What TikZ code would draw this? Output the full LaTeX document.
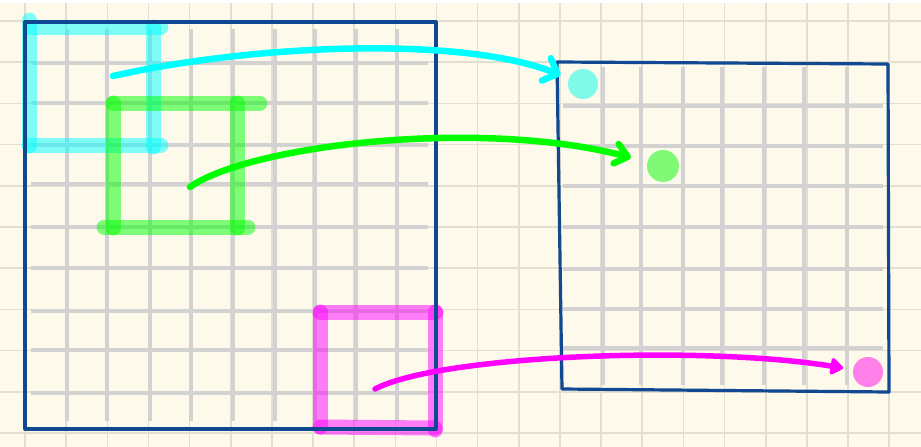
\documentclass[tikz,border=0pt]{standalone}
\usetikzlibrary{arrows.meta}

\definecolor{paper}{RGB}{253,250,235}
\definecolor{paperline}{RGB}{226,223,210}
\definecolor{cellgray}{RGB}{210,210,210}
\definecolor{frameblue}{RGB}{16,72,145}
\definecolor{inkcyan}{RGB}{0,255,255}
\definecolor{inkgreen}{RGB}{0,255,0}
\definecolor{inkmagenta}{RGB}{255,0,255}
\definecolor{dotcyan}{RGB}{128,250,232}
\definecolor{dotgreen}{RGB}{128,250,118}
\definecolor{dotmagenta}{RGB}{255,128,232}

\begin{document}
\begin{tikzpicture}[
  x=1pt, y=-1pt,
  paperrule/.style={draw=paperline, line width=1.6pt},
  cell/.style={draw=cellgray, line width=4pt},
  border/.style={draw=frameblue, line width=3.2pt, line join=round},
  win/.style={line width=15pt, line cap=round, opacity=0.5},
  dot/.style={circle, inner sep=0pt, minimum size=30pt},
  link/.style={line width=6.5pt, line cap=round},
]

\useasboundingbox (0,0) rectangle (921,447);
\fill[paper] (0,0) rectangle (921,447);
\fill[white] (0,0) rectangle (921,3);

\foreach \k in {0,...,21}
  \draw[paperrule] ({25+41.15*\k},3) -- ({25+41.15*\k},447);
\foreach \k in {0,...,10}
  \draw[paperrule] (0,{21+41.2*\k}) -- (921,{21+41.2*\k});

\foreach \x in {67,107,150,191,233,275,315,356,397}
  \draw[cell] (\x,29) -- (\x,421);
\foreach \y in {63,103,145,184,227,268,311,350,393}
  \draw[cell] (31,\y) -- (428,\y);
\foreach \x in {603,641,683,722,764,804,847}
  \draw[cell] (\x,67) -- (\x,385);
\foreach \y in {106,146,186,227,269,309,348}
  \draw[cell] (563,\y) -- (883,\y);

\draw[win, inkcyan] (29,20) -- (29,146);
\draw[win, inkcyan] (30,27) -- (161,27);
\draw[win, inkcyan] (153,27) -- (153,147);
\draw[win, inkcyan] (29,145) -- (161,145);

\draw[win, inkgreen] (113,103) -- (260,103);
\draw[win, inkgreen] (113,103) -- (113,228);
\draw[win, inkgreen] (237,103) -- (237,228);
\draw[win, inkgreen] (104,227) -- (248,227);

\draw[win, inkmagenta] (320,312) -- (436,312);
\draw[win, inkmagenta] (320,312) -- (320,427);
\draw[win, inkmagenta] (435,312) -- (435,430);
\draw[win, inkmagenta] (320,427) -- (435,428);

\draw[border] (25,22) rectangle (436,429);
\draw[border] (557,62) -- (888,64) -- (889,392) -- (562,389) -- cycle;

\node[dot, fill=dotcyan] (cyanpix) at (583,84) {};
\node[dot, fill=dotgreen, minimum size=32pt] (greenpix) at (663,166) {};
\node[dot, fill=dotmagenta] (magentapix) at (868,372) {};

\coordinate (cyanfrom) at (113,76);
\coordinate (greenfrom) at (190,187);
\coordinate (magentafrom) at (375,389);

\draw[link, inkcyan, -{Straight Barb[length=12pt,width=24pt,round]}, shorten >=9pt]
  (cyanfrom) .. controls (250,45) and (460,35) .. (cyanpix);
\draw[link, inkgreen, -{Straight Barb[length=12pt,width=20pt,round]}, shorten >=17pt]
  (greenfrom) .. controls (250,145) and (480,118) .. (greenpix);
\draw[link, inkmagenta, line width=5.5pt, -{Triangle[round,length=14pt,width=19pt]}, shorten >=10pt]
  (magentafrom) .. controls (440,355) and (700,345) .. (magentapix);

\end{tikzpicture}
\end{document}
